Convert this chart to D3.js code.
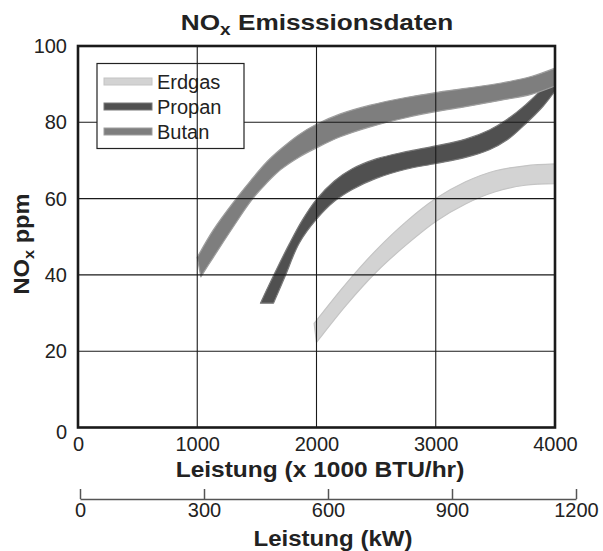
<!DOCTYPE html>
<html>
<head>
<meta charset="utf-8">
<script src="https://cdn.jsdelivr.net/npm/d3@7"></script>
<style>
  html, body { margin: 0; padding: 0; background: #fff; }
  svg text { font-family: "Liberation Sans", Arial, Helvetica, sans-serif; fill: #222; }
</style>
</head>
<body>
<svg id="chart" width="603" height="551"></svg>
<script>
// ---- data ----
const xTicks = [0, 1000, 2000, 3000, 4000];
const yTicks = [0, 20, 40, 60, 80, 100];
const kwTicks = [0, 300, 600, 900, 1200];
const seriesNames = ["Erdgas", "Propan", "Butan"];

const erdgasUpper = [[1980, 27.3], [2250, 37.8], [2500, 46.5], [2750, 53.9], [3000, 60.0], [3250, 64.4], [3500, 67.3], [3750, 68.6], [4000, 69.1]];
const erdgasLower = [[2000, 22.3], [2250, 32.1], [2500, 40.7], [2750, 47.8], [3000, 54.0], [3250, 58.6], [3500, 61.8], [3750, 63.5], [4000, 63.9]];

const propanUpper = [[1530, 32.6], [1650, 40.5], [1770, 48.0], [1880, 54.3], [2000, 59.8], [2150, 64.6], [2300, 67.8], [2500, 70.4], [2750, 72.3], [3000, 73.8], [3250, 75.6], [3450, 78.0], [3600, 80.8], [3750, 84.5], [3900, 89.0], [4000, 92.8]];
const propanLower = [[1640, 32.6], [1735, 39.5], [1855, 48.3], [2000, 54.6], [2150, 59.3], [2300, 62.4], [2500, 65.3], [2750, 67.7], [3000, 69.2], [3250, 70.8], [3450, 72.8], [3600, 75.4], [3750, 79.5], [3900, 84.2], [4000, 88.2]];

const butanUpper = [[1000, 44.6], [1135, 51.8], [1317, 59.6], [1450, 64.8], [1582, 69.6], [1700, 73.0], [1850, 76.7], [2000, 79.5], [2200, 82.2], [2450, 84.5], [2750, 86.5], [3000, 87.8], [3250, 88.9], [3550, 90.3], [3800, 92.0], [4000, 94.2]];
const butanLower = [[1030, 39.5], [1135, 44.6], [1300, 52.5], [1456, 59.6], [1580, 64.0], [1700, 67.6], [1850, 70.8], [2000, 73.3], [2200, 76.2], [2450, 78.8], [2750, 81.2], [3000, 82.8], [3250, 84.1], [3550, 85.8], [3800, 87.3], [4000, 89.5]];

const bandsUpper = [erdgasUpper, propanUpper, butanUpper];
const bandsLower = [erdgasLower, propanLower, butanLower];
const fills = ["#d3d3d3", "#505050", "#7e7e7e"];
const edges = ["#c4c4c4", "#787878", "#9e9e9e"];

// ---- layout ----
const svg = d3.select("#chart");
const L = 78, R = 555, T = 46, B = 427.5;
const x = d3.scaleLinear().domain([0, 4000]).range([L, R]);
const y = d3.scaleLinear().domain([0, 100]).range([B, T]);
const xkw = d3.scaleLinear().domain([0, 1200]).range([80, 576]);

// bands
const line = d3.line().x(d => x(d[0])).y(d => y(d[1])).curve(d3.curveCatmullRom.alpha(0.5));
function bandD(up, lo) {
  const a = line(up);
  const b = line(lo.slice().reverse());
  return a + "L" + b.slice(1) + "Z";
}
svg.append("g").selectAll("path").data(seriesNames).join("path")
  .attr("d", (d, i) => bandD(bandsUpper[i], bandsLower[i]))
  .attr("fill", (d, i) => fills[i])
  .attr("stroke", (d, i) => edges[i])
  .attr("stroke-width", 1.2)
  .attr("stroke-linejoin", "round");

// horizontal gridlines
svg.append("g").selectAll("line").data(yTicks.slice(1, -1)).join("line")
  .attr("x1", L).attr("x2", R)
  .attr("y1", d => y(d)).attr("y2", d => y(d))
  .attr("stroke", "#1a1a1a").attr("stroke-width", 1.1);

// legend
const lg = svg.append("g");
lg.append("rect").attr("x", 97).attr("y", 63.5).attr("width", 147).attr("height", 85)
  .attr("fill", "#fff").attr("stroke", "#222").attr("stroke-width", 1.2);
const li = lg.selectAll("g").data(seriesNames).join("g")
  .attr("transform", (d, i) => `translate(0,${81.5 + i * 25})`);
li.append("rect").attr("x", 104).attr("y", -3.5).attr("width", 48).attr("height", 7)
  .attr("fill", (d, i) => fills[i]).attr("stroke", (d, i) => edges[i]).attr("stroke-width", 1);
li.append("text").attr("x", 157).attr("y", 7).attr("font-size", 20).text(d => d);

// vertical gridlines
svg.append("g").selectAll("line").data(xTicks.slice(1, -1)).join("line")
  .attr("x1", d => x(d)).attr("x2", d => x(d))
  .attr("y1", T).attr("y2", B)
  .attr("stroke", "#1a1a1a").attr("stroke-width", 1.1);

// frame
svg.append("rect").attr("x", L).attr("y", T).attr("width", R - L).attr("height", B - T)
  .attr("fill", "none").attr("stroke", "#1a1a1a").attr("stroke-width", 2.6);

// axes
const gx = svg.append("g").attr("transform", `translate(0,${B})`)
  .call(d3.axisBottom(x).tickValues(xTicks).tickSize(0).tickPadding(9).tickFormat(d3.format("d")));
gx.select(".domain").remove();
gx.selectAll("text").attr("font-size", 20).attr("font-family", "Liberation Sans, Arial, sans-serif").attr("fill", "#222");

const gy = svg.append("g").attr("transform", `translate(${L},0)`)
  .call(d3.axisLeft(y).tickValues(yTicks).tickSize(0).tickPadding(11).tickFormat(d3.format("d")));
gy.select(".domain").remove();
gy.selectAll("text").attr("font-size", 20).attr("font-family", "Liberation Sans, Arial, sans-serif").attr("fill", "#222")
  .attr("dy", (d) => d === 0 ? "0.55em" : "0.32em");

const gk = svg.append("g").attr("transform", "translate(0,499)")
  .call(d3.axisBottom(xkw).tickValues(kwTicks).tickSizeInner(-10).tickSizeOuter(0).tickPadding(4).tickFormat(d3.format("d")));
gk.select(".domain").attr("stroke", "#555").attr("stroke-width", 1.5);
gk.selectAll(".tick line").attr("stroke", "#555").attr("stroke-width", 1.5);
gk.selectAll("text").attr("font-size", 20).attr("font-family", "Liberation Sans, Arial, sans-serif").attr("fill", "#222");

// titles
const t = svg.append("text").attr("transform", "translate(317,30) scale(1.19,1)").attr("text-anchor", "middle")
  .attr("font-size", 22).attr("font-weight", "bold");
t.append("tspan").text("NO");
t.append("tspan").attr("font-size", 16).attr("dy", 5).text("x");
t.append("tspan").attr("dy", -5).text(" Emisssionsdaten");

svg.append("text").attr("transform", "translate(320,477) scale(1.14,1)").attr("text-anchor", "middle")
  .attr("font-size", 21.5).attr("font-weight", "bold").text("Leistung (x 1000 BTU/hr)");

svg.append("text").attr("transform", "translate(333,546) scale(1.12,1)").attr("text-anchor", "middle")
  .attr("font-size", 21.5).attr("font-weight", "bold").text("Leistung (kW)");

const yt = svg.append("text").attr("transform", "translate(29,244) rotate(-90) scale(1.1,1)").attr("text-anchor", "middle")
  .attr("font-size", 21.5).attr("font-weight", "bold");
yt.append("tspan").text("NO");
yt.append("tspan").attr("font-size", 15).attr("dy", 5).text("x");
yt.append("tspan").attr("dy", -5).text(" ppm");
</script>
</body>
</html>
